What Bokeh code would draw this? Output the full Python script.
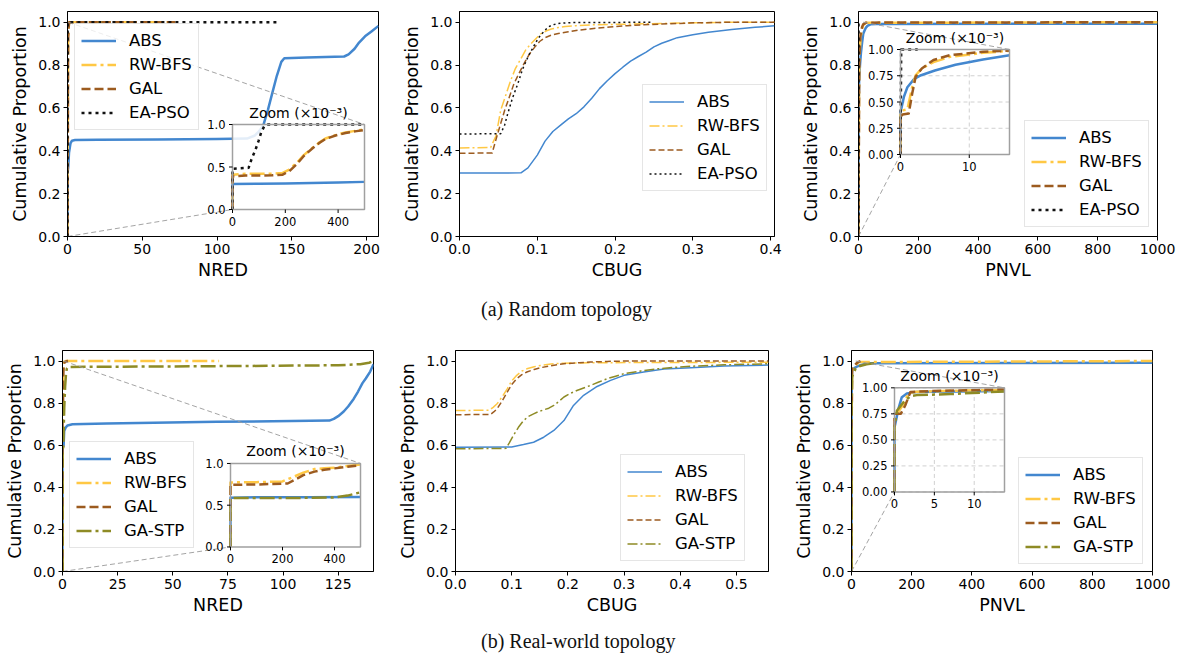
import numpy as np
from bokeh.plotting import figure
from bokeh.layouts import column, row
from bokeh.models import Range1d, FixedTicker, NumeralTickFormatter, Div
from bokeh.core.properties import value
from bokeh.embed import file_html
from bokeh.resources import INLINE

# ------------------------------------------------------------------ data
methods_a = ["ABS", "RW-BFS", "GAL", "EA-PSO"]
methods_b = ["ABS", "RW-BFS", "GAL", "GA-STP"]

# (a) random topology, NRED
a_nred_abs_x = [0, 0, 0.1, 0.2, 0.3, 0.4, 0.5, 1, 2, 3, 5, 20, 60, 100, 120, 125, 128, 131, 134, 137, 140, 143, 145, 160, 185, 188, 192, 195, 199, 203.5, 208]
a_nred_abs_y = [0, 0.30, 0.302, 0.306, 0.312, 0.318, 0.325, 0.39, 0.435, 0.447, 0.45, 0.451, 0.453, 0.455, 0.457, 0.47, 0.49, 0.52, 0.59, 0.67, 0.75, 0.815, 0.832, 0.835, 0.84, 0.85, 0.876, 0.905, 0.934, 0.958, 0.983]
a_nred_rwbfs_x = [0, 0, 0.05, 0.1, 0.15, 0.19, 0.215, 0.244, 0.27, 0.301, 0.33, 0.352, 0.39, 0.428, 0.47, 0.5, 0.7, 1.0, 72]
a_nred_rwbfs_y = [0, 0.41, 0.42, 0.42, 0.422, 0.43, 0.47, 0.55, 0.64, 0.72, 0.79, 0.835, 0.875, 0.906, 0.928, 0.942, 0.98, 1.0, 1.0]
a_nred_gal_x = [0, 0, 0.05, 0.1, 0.15, 0.19, 0.215, 0.244, 0.27, 0.301, 0.33, 0.352, 0.39, 0.428, 0.47, 0.5, 0.7, 1.2, 72]
a_nred_gal_y = [0, 0.39, 0.40, 0.40, 0.402, 0.41, 0.45, 0.535, 0.63, 0.715, 0.785, 0.83, 0.87, 0.90, 0.922, 0.936, 0.975, 1.0, 1.0]
a_nred_eapso_x = [0, 0, 0.061, 0.073, 0.086, 0.099, 0.109, 0.121, 0.13, 142]
a_nred_eapso_y = [0, 0.48, 0.49, 0.60, 0.693, 0.811, 0.91, 0.984, 1.0, 1.0]

# (a) random topology, CBUG
a_cbug_abs_x = [0, 0.079, 0.088, 0.1, 0.11, 0.12, 0.13, 0.14, 0.15, 0.16, 0.17, 0.18, 0.19, 0.2, 0.21, 0.22, 0.23, 0.24, 0.25, 0.26, 0.27, 0.28, 0.3, 0.32, 0.35, 0.38, 0.405]
a_cbug_abs_y = [0.296, 0.297, 0.32, 0.38, 0.445, 0.49, 0.52, 0.549, 0.573, 0.605, 0.645, 0.69, 0.727, 0.76, 0.79, 0.818, 0.84, 0.86, 0.885, 0.902, 0.915, 0.928, 0.942, 0.953, 0.966, 0.976, 0.983]
a_cbug_rwbfs_x = [0, 0.04, 0.047, 0.053, 0.06, 0.066, 0.072, 0.079, 0.085, 0.092, 0.1, 0.105, 0.112, 0.118, 0.127, 0.136, 0.15, 0.171, 0.2, 0.258, 0.3, 0.35, 0.405]
a_cbug_rwbfs_y = [0.413, 0.415, 0.47, 0.59, 0.665, 0.73, 0.785, 0.83, 0.87, 0.90, 0.93, 0.947, 0.96, 0.968, 0.975, 0.98, 0.984, 0.988, 0.99, 0.994, 0.997, 1.0, 1.0]
a_cbug_gal_x = [0, 0.042, 0.049, 0.058, 0.064, 0.07, 0.077, 0.084, 0.09, 0.097, 0.103, 0.11, 0.118, 0.127, 0.14, 0.153, 0.17, 0.193, 0.215, 0.236, 0.27, 0.302, 0.35, 0.405]
a_cbug_gal_y = [0.388, 0.39, 0.479, 0.588, 0.65, 0.713, 0.765, 0.814, 0.852, 0.885, 0.91, 0.928, 0.94, 0.947, 0.955, 0.963, 0.97, 0.978, 0.984, 0.988, 0.993, 0.997, 1.0, 1.0]
a_cbug_eapso_x = [0, 0.053, 0.058, 0.062, 0.068, 0.075, 0.081, 0.088, 0.095, 0.101, 0.108, 0.114, 0.12, 0.127, 0.14, 0.249]
a_cbug_eapso_y = [0.478, 0.48, 0.52, 0.573, 0.645, 0.713, 0.78, 0.838, 0.885, 0.924, 0.955, 0.978, 0.988, 0.994, 0.998, 1.0]

# (a) random topology, PNVL
a_pnvl_abs_x = [0, 0, 0.5, 1, 2, 3, 5, 8, 12, 15.85, 20, 25, 30, 40, 60, 1000]
a_pnvl_abs_y = [0, 0.40, 0.55, 0.64, 0.72, 0.755, 0.80, 0.855, 0.905, 0.946, 0.96, 0.975, 0.983, 0.99, 0.992, 0.993]
a_pnvl_rwbfs_x = [0, 0, 0.3, 1, 1.7, 2.2, 3.1, 4.8, 7.2, 12, 15.85, 25, 1000]
a_pnvl_rwbfs_y = [0, 0.40, 0.42, 0.43, 0.64, 0.755, 0.82, 0.88, 0.93, 0.968, 0.987, 0.997, 1.0]
a_pnvl_gal_x = [0, 0, 0.3, 1.2, 1.7, 2.2, 3.1, 4.8, 7.2, 12, 15.85, 25, 1000]
a_pnvl_gal_y = [0, 0.36, 0.38, 0.39, 0.58, 0.74, 0.82, 0.90, 0.946, 0.978, 0.99, 0.998, 1.0]
a_pnvl_eapso_x = [0, 0.1, 2.5]
a_pnvl_eapso_y = [0, 1.0, 1.0]

# (b) real-world topology, NRED
b_nred_abs_x = [0, 0, 0.1, 0.3, 0.5, 0.76, 1.5, 2.3, 4.5, 20, 70, 121, 123, 125, 127.5, 129.5, 132, 134, 136, 137.5, 139.5, 141]
b_nred_abs_y = [0, 0.59, 0.595, 0.596, 0.598, 0.667, 0.685, 0.694, 0.70, 0.703, 0.711, 0.717, 0.725, 0.738, 0.76, 0.784, 0.82, 0.855, 0.895, 0.917, 0.95, 0.985]
b_nred_rwbfs_x = [0, 0, 0.1, 0.2, 0.245, 0.28, 0.323, 0.36, 0.4, 0.45, 0.5, 0.8, 1.5, 71]
b_nred_rwbfs_y = [0, 0.773, 0.776, 0.785, 0.843, 0.89, 0.933, 0.942, 0.949, 0.97, 0.988, 0.995, 1.0, 1.0]
b_nred_gal_x = [0, 0, 0.1, 0.22, 0.245, 0.28, 0.323, 0.36, 0.4, 0.45, 0.5, 1.0, 2.0, 2.5]
b_nred_gal_y = [0, 0.745, 0.748, 0.76, 0.80, 0.86, 0.902, 0.925, 0.941, 0.96, 0.98, 0.995, 1.0, 1.0]
b_nred_gastp_x = [0, 0, 0.1, 0.2, 0.3, 0.4, 0.45, 0.5, 0.8, 1.2, 1.6, 2.0, 2.5, 25, 75, 125, 135, 139, 141]
b_nred_gastp_y = [0, 0.585, 0.586, 0.587, 0.588, 0.592, 0.615, 0.655, 0.78, 0.88, 0.94, 0.965, 0.972, 0.973, 0.976, 0.98, 0.985, 0.992, 1.0]

# (b) real-world topology, CBUG
b_cbug_abs_x = [0, 0.1, 0.121, 0.139, 0.157, 0.175, 0.193, 0.21, 0.228, 0.252, 0.276, 0.3, 0.335, 0.371, 0.419, 0.478, 0.557]
b_cbug_abs_y = [0.59, 0.592, 0.603, 0.614, 0.638, 0.67, 0.717, 0.789, 0.837, 0.879, 0.908, 0.932, 0.948, 0.962, 0.968, 0.976, 0.981]
b_cbug_rwbfs_x = [0, 0.06, 0.067, 0.074, 0.083, 0.092, 0.1, 0.109, 0.118, 0.127, 0.14, 0.151, 0.17, 0.193, 0.25, 0.35, 0.557]
b_cbug_rwbfs_y = [0.765, 0.766, 0.78, 0.797, 0.83, 0.868, 0.905, 0.932, 0.952, 0.963, 0.973, 0.979, 0.986, 0.99, 0.992, 0.993, 0.994]
b_cbug_gal_x = [0, 0.062, 0.068, 0.074, 0.083, 0.092, 0.1, 0.109, 0.118, 0.127, 0.14, 0.151, 0.17, 0.193, 0.22, 0.24, 0.27, 0.3, 0.557]
b_cbug_gal_y = [0.745, 0.746, 0.758, 0.773, 0.81, 0.852, 0.888, 0.916, 0.935, 0.948, 0.96, 0.968, 0.978, 0.987, 0.992, 0.995, 0.998, 1.0, 1.0]
b_cbug_gastp_x = [0, 0.09, 0.096, 0.103, 0.112, 0.121, 0.13, 0.139, 0.148, 0.157, 0.166, 0.175, 0.184, 0.193, 0.205, 0.216, 0.228, 0.24, 0.255, 0.27, 0.285, 0.3, 0.33, 0.359, 0.39, 0.419, 0.478, 0.557]
b_cbug_gastp_y = [0.583, 0.585, 0.612, 0.646, 0.685, 0.717, 0.737, 0.749, 0.76, 0.768, 0.776, 0.789, 0.808, 0.829, 0.847, 0.86, 0.872, 0.884, 0.90, 0.916, 0.928, 0.94, 0.953, 0.963, 0.97, 0.975, 0.982, 0.987]

# (b) real-world topology, PNVL
b_pnvl_abs_x = [0, 0, 0.5, 0.92, 1.55, 2.8, 5, 8, 13.8, 20, 40, 60, 1000]
b_pnvl_abs_y = [0, 0.62, 0.80, 0.91, 0.946, 0.959, 0.962, 0.965, 0.97, 0.975, 0.985, 0.99, 0.992]
b_pnvl_rwbfs_x = [0, 0, 0.3, 1.1, 1.76, 2.8, 6, 13.8, 25, 1000]
b_pnvl_rwbfs_y = [0, 0.70, 0.75, 0.84, 0.95, 0.962, 0.97, 0.98, 0.995, 1.0]
b_pnvl_gal_x = [0, 0, 0.8, 1.34, 2.0, 3, 8, 13.8, 20, 30]
b_pnvl_gal_y = [0, 0.75, 0.752, 0.83, 0.96, 0.965, 0.975, 0.985, 0.993, 1.0]
b_pnvl_gastp_x = [0, 0, 0.3, 1.1, 2, 2.8, 7, 13.8, 25, 50, 80]
b_pnvl_gastp_y = [0, 0.62, 0.78, 0.86, 0.92, 0.93, 0.94, 0.965, 0.975, 0.985, 0.99]

# ticks and labels
y_ticks = [0, 0.2, 0.4, 0.6, 0.8, 1.0]
a_nred_xticks = [0, 50, 100, 150, 200]
a_cbug_xticks = [0, 0.1, 0.2, 0.3, 0.4]
pnvl_xticks = [0, 200, 400, 600, 800, 1000]
b_nred_xticks = [0, 25, 50, 75, 100, 125]
b_cbug_xticks = [0, 0.1, 0.2, 0.3, 0.4, 0.5]
x_labels = ["NRED", "CBUG", "PNVL"]
y_label = "Cumulative Proportion"

nred_zoom_xticks = [0, 0.2, 0.4]
nred_zoom_xlabels = ["0", "200", "400"]
nred_zoom_yticks = [0, 0.5, 1.0]
nred_zoom_ylabels = ["0.0", "0.5", "1.0"]
a_pnvl_zoom_xticks = [0, 10]
a_pnvl_zoom_xlabels = ["0", "10"]
b_pnvl_zoom_xticks = [0, 5, 10]
b_pnvl_zoom_xlabels = ["0", "5", "10"]
pnvl_zoom_yticks = [0, 0.25, 0.5, 0.75, 1.0]
pnvl_zoom_ylabels = ["0.00", "0.25", "0.50", "0.75", "1.00"]
zoom_title = "Zoom (×10⁻³)"
captions = ["(a) Random topology", "(b) Real-world topology"]

# ------------------------------------------------------------------ styles
FONT = value("DejaVu Sans")
COLORS = {"ABS": "#4387cf", "RW-BFS": "#ffc844", "GAL": "#9c5b1f",
          "EA-PSO": "#111111", "GA-STP": "#8e8b25"}
DASH_THICK = {"ABS": "solid", "RW-BFS": "15 4 3 4", "GAL": "9 4",
              "EA-PSO": "3 4", "GA-STP": "15 4 3 4"}
DASH_THIN = {"ABS": "solid", "RW-BFS": "10 3 2 3", "GAL": "6 3",
             "EA-PSO": "2 3", "GA-STP": "10 3 2 3"}


def clip(xs, ys, xmax):
    xs = np.asarray(xs, float)
    ys = np.asarray(ys, float)
    keep = xs <= xmax
    cx = list(xs[keep])
    cy = list(ys[keep])
    if cx[-1] < xmax and xs.max() > xmax:
        cy.append(float(np.interp(xmax, xs, ys)))
        cx.append(xmax)
    return cx, cy


def make_panel(series, xr, xticks, xfmt, xlabel, box, frame, thick,
               legend_pos, inset=None):
    bx0, by0, bx1, by1 = box
    fl, ft, fw, fh = frame
    p = figure(width=bx1 - bx0, height=by1 - by0,
               x_range=Range1d(*xr), y_range=Range1d(0, 1.05),
               output_backend="svg", toolbar_location=None,
               min_border_left=fl - bx0, min_border_right=bx1 - (fl + fw),
               min_border_top=ft - by0, min_border_bottom=by1 - (ft + fh))
    p.grid.visible = False
    p.outline_line_color = "black"
    p.outline_line_alpha = 1
    p.outline_line_width = 1
    p.xaxis.ticker = FixedTicker(ticks=xticks)
    p.yaxis.ticker = FixedTicker(ticks=y_ticks)
    p.xaxis.formatter = NumeralTickFormatter(format=xfmt)
    p.yaxis.formatter = NumeralTickFormatter(format="0.0")
    p.xaxis.axis_label = xlabel
    p.yaxis.axis_label = y_label
    for ax in (p.xaxis[0], p.yaxis[0]):
        ax.axis_line_color = "black"
        ax.major_tick_line_color = "black"
        ax.major_tick_out = 4
        ax.major_tick_in = 0
        ax.minor_tick_line_color = None
        ax.major_label_standoff = 3
        ax.major_label_text_font = "DejaVu Sans"
        ax.major_label_text_font_size = "14px"
        ax.major_label_text_color = "black"
        ax.axis_label_text_font = "DejaVu Sans"
        ax.axis_label_text_font_size = "17.5px"
        ax.axis_label_text_font_style = "normal"
        ax.axis_label_text_color = "black"
    p.xaxis.axis_label_standoff = 3
    p.yaxis.axis_label_standoff = 5

    lw = 2.5 if thick else 1.5
    dashes = DASH_THICK if thick else DASH_THIN
    for name, xs, ys in series:
        p.line(xs, ys, line_color=COLORS[name], line_width=lw,
               line_dash=dashes[name], line_join="round", legend_label=name)

    lg = p.legend[0]
    lx, row1 = legend_pos
    box_h = 2 * 6 + 4 * 21 + 3 * 3
    lg.location = (lx - fl, (ft + fh) - (row1 - 16.5 + box_h))
    lg.margin = 0
    lg.padding = 6
    lg.spacing = 3
    lg.label_height = 21
    lg.glyph_height = 21
    lg.glyph_width = 35
    lg.label_standoff = 13
    lg.label_text_font = "DejaVu Sans"
    lg.label_text_font_size = "16.5px"
    lg.label_text_color = "black"
    lg.border_line_color = "#cccccc"
    lg.border_line_width = 1
    lg.background_fill_alpha = 0.8

    if inset is not None:
        x0s, x1s = inset["src_x"]
        L, R, T, B = inset["px"]

        def dx(px):
            return xr[0] + (px - fl) / fw * (xr[1] - xr[0])

        def dy(py):
            return (ft + fh - py) / fh * 1.05

        xt = Range1d(dx(L), dx(R))
        yt = Range1d(dy(B), dy(T))
        p.segment(x0=[x0s, x1s], y0=[0, 1], x1=[xt.start, xt.end], y1=[yt.start, yt.end],
                  line_color="#9a9a9a", line_width=1, line_dash="5 3", line_alpha=0.9)
        sub = p.subplot(x_source=Range1d(x0s, x1s), y_source=Range1d(0, 1),
                        x_target=xt, y_target=yt)
        sub.quad(left=[x0s], right=[x1s], bottom=[0], top=[1],
                 fill_color="white", fill_alpha=0.85, line_color=None)
        xticks_i, xlabels_i = inset["xticks"], inset["xlabels"]
        yticks_i, ylabels_i = inset["yticks"], inset["ylabels"]
        if inset["grid"]:
            sub.segment(x0=xticks_i, y0=[0] * len(xticks_i), x1=xticks_i, y1=[1] * len(xticks_i),
                        line_color="#d0d0d0", line_width=1, line_dash="4 3")
            sub.segment(x0=[x0s] * len(yticks_i), y0=yticks_i, x1=[x1s] * len(yticks_i), y1=yticks_i,
                        line_color="#d0d0d0", line_width=1, line_dash="4 3")
        for name, xs, ys in series:
            cx, cy = clip(xs, ys, x1s)
            sub.line(cx, cy, line_color=COLORS[name], line_width=lw,
                     line_dash=dashes[name], line_join="round")
        sub.quad(left=[x0s], right=[x1s], bottom=[0], top=[1],
                 fill_color=None, line_color="#a0a0a0", line_width=1.5)
        ty = 3.5 / (B - T)
        tx = 3.5 / (R - L) * (x1s - x0s)
        sub.segment(x0=xticks_i, y0=[0] * len(xticks_i), x1=xticks_i, y1=[-ty] * len(xticks_i),
                    line_color="black", line_width=1)
        sub.segment(x0=[x0s - tx] * len(yticks_i), y0=yticks_i, x1=[x0s] * len(yticks_i), y1=yticks_i,
                    line_color="black", line_width=1)
        sub.text(x=xticks_i, y=[0] * len(xticks_i), text=xlabels_i, y_offset=7,
                 text_align="center", text_baseline="top", text_font=FONT,
                 text_font_size="11.5px", text_color="black")
        sub.text(x=[x0s] * len(yticks_i), y=yticks_i, text=ylabels_i, x_offset=-7,
                 text_align="right", text_baseline="middle", text_font=FONT,
                 text_font_size="11.5px", text_color="black")
        sub.text(x=[(x0s + x1s) / 2], y=[1], text=[zoom_title], y_offset=-4,
                 text_align="center", text_baseline="bottom", text_font=FONT,
                 text_font_size="14px", text_color="black")
    return p


pa1 = make_panel(
    [("ABS", a_nred_abs_x, a_nred_abs_y), ("RW-BFS", a_nred_rwbfs_x, a_nred_rwbfs_y),
     ("GAL", a_nred_gal_x, a_nred_gal_y), ("EA-PSO", a_nred_eapso_x, a_nred_eapso_y)],
    (0, 208), a_nred_xticks, "0", x_labels[0], (0, 0, 388, 288), (67, 11, 311, 225), True,
    (74, 41),
    inset=dict(src_x=(0, 0.5), px=(232, 364, 124, 209), xticks=nred_zoom_xticks,
               xlabels=nred_zoom_xlabels, yticks=nred_zoom_yticks, ylabels=nred_zoom_ylabels,
               grid=False))
pa2 = make_panel(
    [("ABS", a_cbug_abs_x, a_cbug_abs_y), ("RW-BFS", a_cbug_rwbfs_x, a_cbug_rwbfs_y),
     ("GAL", a_cbug_gal_x, a_cbug_gal_y), ("EA-PSO", a_cbug_eapso_x, a_cbug_eapso_y)],
    (0, 0.405), a_cbug_xticks, "0.0", x_labels[1], (388, 0, 782, 288), (459, 11, 315, 225), False,
    (642, 102))
pa3 = make_panel(
    [("ABS", a_pnvl_abs_x, a_pnvl_abs_y), ("RW-BFS", a_pnvl_rwbfs_x, a_pnvl_rwbfs_y),
     ("GAL", a_pnvl_gal_x, a_pnvl_gal_y), ("EA-PSO", a_pnvl_eapso_x, a_pnvl_eapso_y)],
    (0, 1000), pnvl_xticks, "0", x_labels[2], (782, 0, 1177, 288), (858, 11, 299, 225), True,
    (1024, 138),
    inset=dict(src_x=(0, 15.85), px=(900, 1009, 49, 154), xticks=a_pnvl_zoom_xticks,
               xlabels=a_pnvl_zoom_xlabels, yticks=pnvl_zoom_yticks, ylabels=pnvl_zoom_ylabels,
               grid=True))
pb1 = make_panel(
    [("ABS", b_nred_abs_x, b_nred_abs_y), ("RW-BFS", b_nred_rwbfs_x, b_nred_rwbfs_y),
     ("GAL", b_nred_gal_x, b_nred_gal_y), ("GA-STP", b_nred_gastp_x, b_nred_gastp_y)],
    (0, 141), b_nred_xticks, "0", x_labels[0], (0, 330, 385, 620), (62, 347, 311, 225), True,
    (69, 460),
    inset=dict(src_x=(0, 0.5), px=(230, 360, 462, 547), xticks=nred_zoom_xticks,
               xlabels=nred_zoom_xlabels, yticks=nred_zoom_yticks, ylabels=nred_zoom_ylabels,
               grid=False))
pb2 = make_panel(
    [("ABS", b_cbug_abs_x, b_cbug_abs_y), ("RW-BFS", b_cbug_rwbfs_x, b_cbug_rwbfs_y),
     ("GAL", b_cbug_gal_x, b_cbug_gal_y), ("GA-STP", b_cbug_gastp_x, b_cbug_gastp_y)],
    (0, 0.557), b_cbug_xticks, "0.0", x_labels[1], (385, 330, 780, 620), (455, 350, 313, 221), False,
    (620, 472))
pb3 = make_panel(
    [("ABS", b_pnvl_abs_x, b_pnvl_abs_y), ("RW-BFS", b_pnvl_rwbfs_x, b_pnvl_rwbfs_y),
     ("GAL", b_pnvl_gal_x, b_pnvl_gal_y), ("GA-STP", b_pnvl_gastp_x, b_pnvl_gastp_y)],
    (0, 1000), pnvl_xticks, "0", x_labels[2], (780, 330, 1177, 620), (851, 347, 301, 225), True,
    (1018, 476),
    inset=dict(src_x=(0, 13.8), px=(894, 1004, 385, 491), xticks=b_pnvl_zoom_xticks,
               xlabels=b_pnvl_zoom_xlabels, yticks=pnvl_zoom_yticks, ylabels=pnvl_zoom_ylabels,
               grid=True))

CAP_STYLE = ("padding:10px 0 0 481px;font-family:'Liberation Serif';font-size:20px;"
             "line-height:22px;white-space:nowrap;color:#111111;")
cap_a = Div(text=f'<div style="{CAP_STYLE}">{captions[0]}</div>', width=1177, height=42, margin=0)
cap_b = Div(text=f'<div style="{CAP_STYLE}">{captions[1]}</div>', width=1177, height=34, margin=0)

layout = column(row(pa1, pa2, pa3, spacing=0), cap_a,
                row(pb1, pb2, pb3, spacing=0), cap_b, spacing=0)

open("out.html", "w").write(file_html(layout, INLINE))
